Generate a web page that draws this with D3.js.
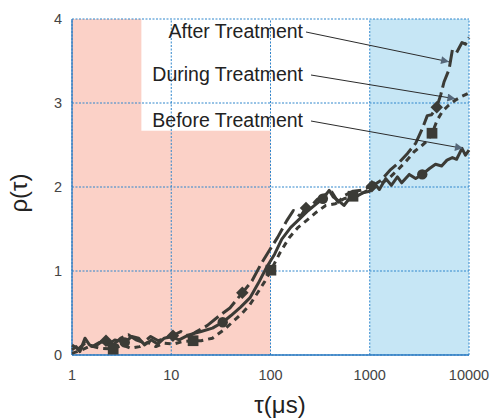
<!DOCTYPE html>
<html>
<head>
<meta charset="utf-8">
<script src="https://cdn.jsdelivr.net/npm/d3@7"></script>
<style>
  body { margin: 0; background: #fff; }
  svg { display: block; font-family: "Liberation Sans", Arial, sans-serif; }
</style>
</head>
<body>
<svg id="chart" width="492" height="419"></svg>
<script>
// data: [tau (us), rho]
const before = [
  [1,0.06],[1.1,0.1],[1.2,0.04],[1.35,0.2],[1.5,0.12],[1.7,0.1],[2,0.16],[2.3,0.12],[2.7,0.18],[3.4,0.15],
  [4,0.22],[4.7,0.2],[5.4,0.12],[6.3,0.18],[7.3,0.13],[8.5,0.2],[10,0.22],[12,0.18],[15,0.24],[20,0.28],
  [26,0.32],[33,0.39],[40,0.47],[50,0.57],[62,0.68],[75,0.85],[92,1.05],[110,1.2],[130,1.38],[160,1.52],
  [200,1.63],[240,1.72],[290,1.8],[337,1.86],[390,1.96],[430,1.88],[480,1.84],[550,1.78],[620,1.86],[720,1.88],
  [850,1.93],[1000,1.95],[1100,2.05],[1250,1.97],[1450,2.1],[1650,2.02],[1900,2.12],[2100,2.05],[2500,2.15],
  [2900,2.1],[3380,2.15],[4000,2.22],[4600,2.27],[5300,2.25],[6000,2.32],[6800,2.35],[7500,2.33],[8500,2.46],
  [9200,2.38],[10000,2.44]
];
const during = [
  [1,0.02],[1.25,0.06],[1.55,0.11],[1.9,0.08],[2.6,0.07],[3.2,0.12],[3.9,0.08],[4.8,0.1],[5.8,0.15],[7,0.1],
  [8.5,0.14],[10.5,0.13],[13,0.16],[16.6,0.17],[20,0.17],[26,0.2],[34,0.3],[42,0.4],[52,0.5],[62,0.6],
  [75,0.75],[88,0.88],[101,1.01],[125,1.22],[155,1.4],[190,1.52],[230,1.6],[290,1.7],[360,1.78],[450,1.8],
  [550,1.86],[678,1.89],[850,1.93],[1000,1.97],[1250,2.03],[1550,2.1],[1900,2.2],[2300,2.3],[2800,2.42],
  [3400,2.5],[3800,2.55],[4240,2.64],[4800,2.8],[5400,2.9],[6200,2.97],[7200,3.03],[8500,3.08],[10000,3.12]
];
const after = [
  [1,0.12],[1.15,0.07],[1.35,0.14],[1.6,0.1],[1.9,0.15],[2.2,0.17],[2.6,0.12],[3.1,0.2],[3.7,0.24],[4.4,0.18],
  [5.2,0.15],[6.2,0.22],[7.4,0.17],[8.8,0.2],[10.4,0.23],[12.5,0.28],[15,0.22],[18,0.28],[23,0.35],[30,0.46],
  [39,0.56],[52,0.74],[65,0.88],[80,1.08],[98,1.25],[118,1.4],[146,1.6],[170,1.72],[200,1.65],[228,1.75],
  [260,1.78],[295,1.85],[340,1.9],[415,1.94],[480,1.82],[560,1.9],[680,1.95],[820,1.96],[1050,2.01],[1300,2.08],
  [1600,2.2],[2000,2.3],[2400,2.4],[2900,2.52],[3400,2.7],[3800,2.85],[4200,2.86],[4730,2.95],[5200,3.1],
  [5600,3.25],[6300,3.4],[6800,3.63],[7500,3.6],[8500,3.72],[9200,3.7],[10000,3.78]
];
// marker positions (tau) on each curve
const beforeMarks = [3.4, 33, 337, 3380];
const duringMarks = [2.6, 16.6, 101, 678, 4240];
const afterMarks = [2.2, 10.4, 52, 228, 1050, 4730];

const labels = ['After Treatment', 'During Treatment', 'Before Treatment'];
const arrowTau = [6300, 7300, 8700];
const arrowRho = [3.49, 3.05, 2.46];

const xTicks = [1, 10, 100, 1000, 10000];
const yTicks = [0, 1, 2, 3, 4];

const width = 492, height = 419;
const margin = {top: 19, right: 23, bottom: 64, left: 72};
const ink = '#3b3b36';
const gridColor = '#2f86cc';

const svg = d3.select('#chart');

const x = d3.scaleLog().domain([1, 10000]).range([margin.left, width - margin.right]);
const y = d3.scaleLinear().domain([0, 4]).range([height - margin.bottom, margin.top]);

// shaded regions
svg.append('rect')
  .attr('x', x(1)).attr('y', y(4))
  .attr('width', x(100) - x(1)).attr('height', y(0) - y(4))
  .attr('fill', '#fbd1c7');
svg.append('rect')
  .attr('x', x(1000)).attr('y', y(4))
  .attr('width', x(10000) - x(1000)).attr('height', y(0) - y(4))
  .attr('fill', '#c6e6f5');
// white box behind the labels
svg.append('rect')
  .attr('x', x(5)).attr('y', y(4))
  .attr('width', x(100) - x(5)).attr('height', y(2.67) - y(4))
  .attr('fill', '#fff');

// grid
const grid = svg.append('g')
  .attr('stroke', gridColor)
  .attr('stroke-width', 1)
  .attr('stroke-dasharray', '2,1.5');
grid.selectAll('.gx')
  .data(xTicks)
  .enter().append('line')
  .attr('x1', d => x(d)).attr('x2', d => x(d))
  .attr('y1', y(0)).attr('y2', y(4));
grid.selectAll('.gy')
  .data(yTicks)
  .enter().append('line')
  .attr('x1', x(1)).attr('x2', x(10000))
  .attr('y1', d => y(d)).attr('y2', d => y(d));

// axes frame (solid left / bottom)
svg.append('line')
  .attr('x1', x(1)).attr('x2', x(1)).attr('y1', y(0)).attr('y2', y(4))
  .attr('stroke', '#2a78c0').attr('stroke-width', 1.3);
svg.append('line')
  .attr('x1', x(1)).attr('x2', x(10000)).attr('y1', y(0)).attr('y2', y(0))
  .attr('stroke', '#2a78c0').attr('stroke-width', 1.3);

// tick labels
svg.append('g')
  .selectAll('text')
  .data(xTicks)
  .enter().append('text')
  .attr('x', d => x(d))
  .attr('y', y(0) + 25)
  .attr('text-anchor', 'middle')
  .style('font-size', '14.5px')
  .style('fill', '#444')
  .text(d => d);
svg.append('g')
  .selectAll('text')
  .data(yTicks)
  .enter().append('text')
  .attr('x', x(1) - 10)
  .attr('y', d => y(d) + 5)
  .attr('text-anchor', 'end')
  .style('font-size', '14.5px')
  .style('fill', '#444')
  .text(d => d);

// axis titles
svg.append('text')
  .attr('x', 280).attr('y', 413)
  .attr('text-anchor', 'middle')
  .style('font-size', '24px')
  .style('fill', '#222')
  .text('τ(μs)');
svg.append('text')
  .attr('transform', 'translate(27,193) rotate(-90)')
  .attr('text-anchor', 'middle')
  .style('font-size', '24px')
  .style('fill', '#222')
  .text('ρ(τ)');

// curves
const line = d3.line()
  .x(d => x(d[0]))
  .y(d => y(d[1]));

const series = [
  {data: after, marks: afterMarks, dash: '17,5', symbol: 'diamond'},
  {data: during, marks: duringMarks, dash: '6,5', symbol: 'square'},
  {data: before, marks: beforeMarks, dash: null, symbol: 'circle'}
];

const curves = svg.append('g');
series.forEach(s => {
  curves.append('path')
    .datum(s.data)
    .attr('fill', 'none')
    .attr('stroke', ink)
    .attr('stroke-width', 3)
    .attr('stroke-linejoin', 'round')
    .attr('stroke-dasharray', s.dash)
    .attr('d', line);
});

const lookup = (data, t) => data.find(d => d[0] === t);
series.forEach(s => {
  const pts = s.marks.map(t => lookup(s.data, t));
  const g = curves.append('g').attr('fill', ink);
  g.selectAll('path')
    .data(pts)
    .enter().append('path')
    .attr('transform', d => {
      let tr = 'translate(' + x(d[0]) + ',' + y(d[1]) + ')';
      if (s.symbol === 'diamond') tr += ' rotate(45)';
      return tr;
    })
    .attr('d', d => {
      if (s.symbol === 'circle') return d3.symbol(d3.symbolCircle, 85)();
      if (s.symbol === 'square') return d3.symbol(d3.symbolSquare, 115)();
      return d3.symbol(d3.symbolSquare, 78)();
    });
});

// labels and arrows
svg.append('defs').append('marker')
  .attr('id', 'head')
  .attr('viewBox', '0 0 10 10')
  .attr('refX', 10).attr('refY', 5)
  .attr('markerWidth', 12).attr('markerHeight', 8)
  .attr('markerUnits', 'userSpaceOnUse')
  .attr('orient', 'auto')
  .append('path')
  .attr('d', 'M0,0L10,5L0,10Z')
  .attr('fill', '#56687a');

const labelRight = 303;
const labelBase = [38, 81, 127];
labels.forEach((t, i) => {
  svg.append('text')
    .attr('x', labelRight)
    .attr('y', labelBase[i])
    .attr('text-anchor', 'end')
    .style('font-size', '19.5px')
    .style('fill', '#222')
    .text(t);
  svg.append('line')
    .attr('x1', labelRight + 3 + (i ? 5 : 0))
    .attr('y1', labelBase[i] - 6)
    .attr('x2', x(arrowTau[i]))
    .attr('y2', y(arrowRho[i]))
    .attr('stroke', '#2b2b2b')
    .attr('stroke-width', 1)
    .attr('marker-end', 'url(#head)');
});
</script>
</body>
</html>
